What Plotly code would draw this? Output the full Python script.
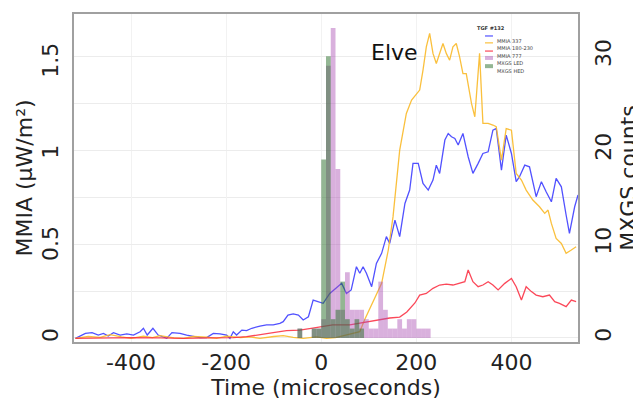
import plotly.graph_objects as go

# ---------------- data ----------------
t_blue = [-517,-496,-482,-469,-458,-448,-437,-423,-409,-395,-381,-374,-366,-354,-343,-325,-314,-297,-283,-269,
          -255,-241,-227,-213,-199,-192,-185,-178,-167,-157,-146,-129,-115,-101,-87,-80,-70,-59,-48,-38,
          -27,-17,-6,4,18,32,43,53,63,74,81,88,95,106,116,127,137,144,155,165,
          176,186,193,204,214,225,235,242,249,260,267,274,281,288,298,309,319,330,340,351,
          361,368,379,389,400,410,417,428,438,452,463,473,484,494,505,515,522,533,540]
mmia_337 = [0.0,0.027,0.031,0.018,0.027,0.013,0.031,0.018,0.024,0.018,0.036,0.055,0.018,0.055,0.018,0.0,0.031,0.027,0.018,0.009,
            0.004,0.004,0.027,0.024,0.018,0.0,0.036,0.018,0.045,0.042,0.055,0.067,0.073,0.073,0.082,0.091,0.127,0.133,0.127,0.1,
            0.118,0.209,0.2,0.191,0.245,0.273,0.3,0.245,0.264,0.391,0.355,0.391,0.355,0.282,0.409,0.464,0.555,0.518,0.645,0.555,
            0.736,0.809,0.955,0.955,0.845,0.809,0.864,0.945,0.9,1.082,1.118,1.1,1.091,1.055,1.118,0.991,0.9,0.955,1.009,1.018,
            1.136,1.145,0.918,1.109,1.009,0.855,0.882,0.945,0.936,0.773,0.855,0.8,0.745,0.873,0.827,0.673,0.573,0.718,0.782]

t_orange = [-517,-490,-465,-444,-420,-400,-374,-355,-339,-310,-290,-269,-240,-220,-199,-170,-150,-129,-100,-80,
            -59,-38,-10,11,30,53,81,91,98,113,127,141,151,165,179,190,200,207,214,221,
            228,235,242,249,256,263,270,277,284,291,298,305,316,323,330,333,340,351,361,368,
            379,389,400,410,421,431,445,459,470,477,484,494,505,515,526,536]
mmia_180 = [0.0,0.01,0.005,0.02,0.008,0.0,0.012,0.004,0.015,0.003,0.0,0.01,0.006,0.0,0.012,0.004,0.008,0.0,0.01,0.015,
            0.005,0.0,0.008,0.0,0.004,0.018,0.036,0.1,0.138,0.227,0.3,0.482,0.664,1.027,1.227,1.3,1.336,1.355,1.464,1.591,
            1.664,1.555,1.5,1.555,1.609,1.555,1.518,1.591,1.609,1.536,1.445,1.445,1.282,1.209,1.464,1.555,1.173,1.173,1.164,1.155,
            0.973,1.145,1.136,0.9,0.864,0.809,0.755,0.718,0.682,0.7,0.627,0.545,0.518,0.464,0.482,0.5]

t_red = [-517,-480,-444,-400,-339,-290,-234,-185,-157,-129,-101,-73,-45,-18,-3,24,60,96,123,144,
         165,180,197,207,221,235,249,263,277,291,302,309,319,330,340,351,361,372,386,400,
         410,421,431,442,452,466,480,491,501,515,526,536]
mmia_777 = [0.0,0.002,0.0,0.004,0.002,0.0,0.003,0.004,0.009,0.018,0.031,0.042,0.045,0.056,0.062,0.073,0.073,0.089,0.1,0.111,
            0.116,0.144,0.193,0.236,0.245,0.273,0.291,0.296,0.291,0.3,0.309,0.373,0.309,0.282,0.291,0.309,0.291,0.264,0.3,0.327,
            0.282,0.209,0.282,0.255,0.236,0.227,0.236,0.2,0.191,0.173,0.209,0.2]

bin_centers = [-45,-35,-25,-15,-5,5,15,25,35,45,55,65,75,85,95,105,115,125,135,145,155,165,175,185,195,205,215,225]
mxgs_led = [1,0,0,1,1,2,29,33,18,3,7,3,3,3,2,1,1,6,3,1,1,2,1,2,2,1,1,1]
mxgs_hed = [1,0,0,1,1,19,30,2,3,6,2,1,2,1,0,0,0,0,0,0,0,0,0,0,0,0,0,0]

series_names = ["MMIA 337", "MMIA 180-230", "MMIA 777", "MXGS LED", "MXGS HED"]
legend_title = "TGF #132"

x_ticks = [-400, -200, 0, 200, 400]
x_ticktext = ["-400", "-200", "0", "200", "400"]
yl_ticks = [0, 0.5, 1, 1.5]
yl_ticktext = ["0", "0.5", "1", "1.5"]
yr_ticks = [0, 10, 20, 30]
yr_ticktext = ["0", "10", "20", "30"]

# ---------------- styles ----------------
FONT = "DejaVu Sans"
line_colors = ["rgba(50,50,255,0.85)", "rgba(250,185,40,0.9)", "rgba(250,40,60,0.85)"]
bar_colors = ["rgba(170,80,180,0.45)", "rgba(40,110,40,0.5)"]

fig = go.Figure()
for t, v, name, col in zip([t_blue, t_orange, t_red], [mmia_337, mmia_180, mmia_777],
                           series_names[:3], line_colors):
    fig.add_trace(go.Scatter(x=t, y=v, mode="lines", name=name,
                             line=dict(color=col, width=1.3), yaxis="y"))

for vals, name, col in zip([mxgs_led, mxgs_hed], series_names[3:], bar_colors):
    fig.add_trace(go.Bar(x=bin_centers, y=vals, width=10, name=name,
                         marker=dict(color=col, line=dict(width=0)), yaxis="y2"))

# the page body adds an 8 px margin, so the figure is sized 633x395
axis_font = dict(family=FONT, size=22, color="#222")
fig.update_layout(
    width=633, height=395,
    margin=dict(l=66, r=63, t=6, b=61, autoexpand=False),
    paper_bgcolor="white", plot_bgcolor="white",
    barmode="overlay", showlegend=False,
    font=dict(family=FONT, color="#222"),
    xaxis=dict(range=[-520, 540], tickmode="array", tickvals=x_ticks, ticktext=x_ticktext,
               tickfont=axis_font, showgrid=True, gridcolor="#f2f2f2", zeroline=False,
               showline=True, mirror=True, linecolor="#a0a0a0", linewidth=1.5,
               automargin=False, ticks="", ticklabelstandoff=0,
               title=dict(text="Time (microseconds)", font=axis_font, standoff=5)),
    yaxis=dict(range=[-0.02, 1.77], tickmode="array", tickvals=yl_ticks, ticktext=yl_ticktext,
               tickangle=-90, tickfont=axis_font, showgrid=False, zeroline=False,
               showline=True, mirror=True, linecolor="#a0a0a0", linewidth=1.5,
               automargin=False, ticks="outside", ticklen=5, tickcolor="rgba(0,0,0,0)",
               title=dict(text="MMIA (μW/m²)", font=axis_font, standoff=0)),
    yaxis2=dict(range=[-0.43, 34.5], overlaying="y", side="right", tickmode="array",
                tickvals=yr_ticks, ticktext=yr_ticktext, tickangle=-90, tickfont=axis_font,
                showgrid=True, gridcolor="#ececec", zeroline=False, automargin=False,
                ticks="outside", ticklen=6, tickcolor="rgba(0,0,0,0)",
                minor=dict(tickmode="linear", tick0=0, dtick=5, showgrid=True, gridcolor="#ececec"),
                title=dict(text="MXGS counts", font=axis_font, standoff=0)),
)

fig.add_annotation(x=155, y=1.562, xref="x", yref="y", text="Elve", showarrow=False,
                   font=dict(family=FONT, size=22, color="#111"))

# small legend built from the series names
fig.add_annotation(x=0.86, y=0.9726, xref="paper", yref="paper", text="<b>" + legend_title + "</b>",
                   showarrow=False, font=dict(family=FONT, size=5, color="#333"))
key_colors = line_colors + bar_colors
key_widths = [1.2, 1.2, 1.2, 4, 4]
row_y = [0.933, 0.912, 0.887, 0.866, 0.841]
for name, col, w, yy in zip(series_names, key_colors, key_widths, row_y):
    fig.add_shape(type="line", xref="paper", yref="paper", x0=0.8155, x1=0.8313, y0=yy, y1=yy,
                  line=dict(color=col, width=w))
    fig.add_annotation(x=0.835, y=yy, xref="paper", yref="paper", text=name, showarrow=False,
                       xanchor="left", font=dict(family=FONT, size=5, color="#444"))

fig.write_html("out.html")
